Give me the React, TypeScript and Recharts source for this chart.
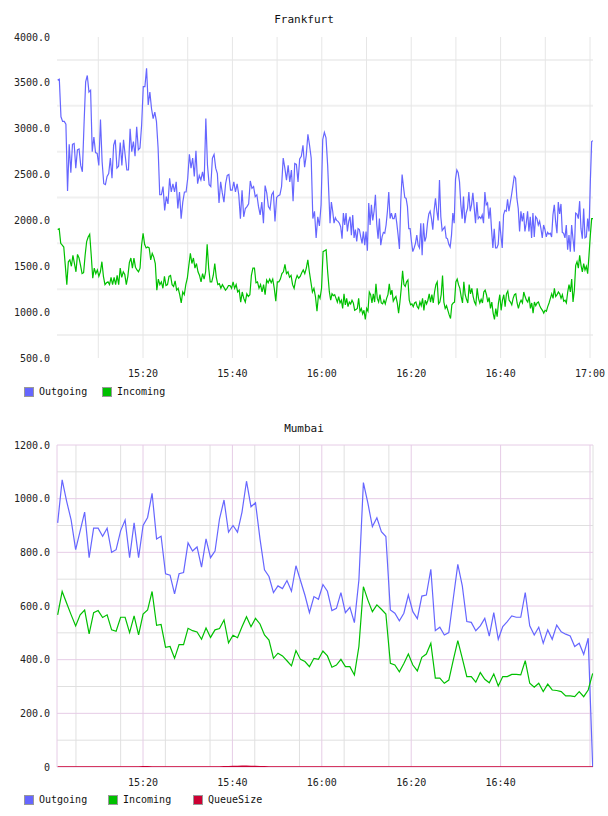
import React from 'react'
import { LineChart, Line, XAxis, YAxis, CartesianGrid } from 'recharts'

// Frankfurt in two halves (15:01-16:01, 16:01-17:00)
const frankfurtOutA = [
  3530, 3540, 3130, 3080, 3080, 3050, 2320, 2830, 2520, 2830, 2840, 2570, 2770, 2780, 2600, 2530, 3040, 3510, 3580, 3400,
  3420, 2750, 2910, 2740, 2730, 2600, 3100, 2640, 2400, 2390, 2480, 2510, 2680, 2460, 2820, 2880, 2570, 2590, 2850, 2600,
  2880, 2710, 2550, 2550, 3000, 2750, 2860, 2700, 3020, 2770, 2790, 3040, 3460, 3460, 3660, 3260, 3400, 3220, 3110, 3180,
  3080, 2790, 2280, 2280, 2370, 2110, 2260, 2180, 2460, 2310, 2400, 2310, 2420, 2130, 2310, 2020, 2200, 2310, 2310, 2460,
  2720, 2570, 2680, 2480, 2760, 2400, 2490, 2440, 2530, 2430, 3110, 2600, 2390, 2370, 2680, 2720, 2570, 2510, 2190, 2420,
  2300, 2200, 2400, 2490, 2500, 2330, 2330, 2420, 2310, 2400, 2280, 2020, 2330, 2040, 2130, 2150, 2180, 2430, 2350, 2370,
  2260, 2280, 2150, 2060, 2200, 1970, 2380, 2300, 2150, 2120, 2280, 2310, 1990, 2250, 2270, 2280, 2370, 2680, 2570, 2440,
  2600, 2420, 2550, 2210, 2620, 2610, 2420, 2670, 2700, 2820, 2580, 2710, 2940, 2820, 2680, 2020, 2100, 1810, 2040, 1940,
  2170, 2880, 2960, 2900, 2600,
]
const frankfurtOutB = [
  1970, 2200, 2100, 1970, 2030, 2000, 1990, 1970, 1930, 1800, 2080, 1950, 2080, 1880, 1990, 2040, 1840, 2060, 1810, 1900,
  1770, 1910, 1900, 1820, 1750, 1880, 1730, 1880, 1670, 2190, 1950, 2170, 2000, 2100, 2280, 1960, 1800, 2020, 1730, 1820,
  1870, 1860, 1950, 2100, 2310, 2020, 2080, 2020, 2020, 2080, 1970, 1840, 1690, 2200, 2500, 2370, 2250, 2240, 2150, 1910,
  1910, 1770, 1660, 1700, 1750, 1840, 1730, 1700, 1970, 1620, 1970, 1770, 1820, 1970, 2070, 2100, 2020, 1900, 2110, 2240,
  2100, 2000, 2440, 2040, 1890, 1910, 1930, 1810, 1800, 1740, 1710, 1840, 2080, 1970, 2450, 2550, 2520, 2420, 2170, 2020,
  2260, 1970, 2080, 2130, 2310, 2100, 2170, 2300, 2140, 1970, 2200, 2020, 2040, 2020, 2060, 1970, 2310, 2170, 2190, 2020,
  2140, 1900, 1700, 1910, 1700, 1700, 1740, 1990, 1840, 1700, 2060, 2110, 2100, 2230, 2100, 2190, 2280, 2380, 2480, 2460,
  2240, 2130, 1880, 2100, 1990, 2080, 1880, 1970, 2100, 1880, 2040, 1810, 2080, 1820, 2040, 2020, 1950, 1990, 1910, 1810,
  1950, 1900, 1820, 1870, 1850, 1860, 1820, 2060, 2170, 1990, 1860, 2200, 2070, 2180, 1870, 1860, 1810, 1950, 1680, 1840,
  1660, 1950, 1800, 1660, 2080, 2070, 2020, 2210, 1910, 1800, 2130, 1810, 1820, 2020, 1880, 2420, 2860, 2870,
]
const frankfurtInA = [
  1900, 1910, 1750, 1730, 1710, 1510, 1300, 1550, 1570, 1500, 1620, 1530, 1440, 1630, 1590, 1510, 1420, 1430, 1620, 1770,
  1820, 1850, 1620, 1370, 1480, 1420, 1460, 1390, 1440, 1550, 1390, 1300, 1320, 1330, 1300, 1380, 1300, 1380, 1300, 1400,
  1300, 1480, 1380, 1440, 1410, 1300, 1390, 1540, 1590, 1480, 1590, 1490, 1460, 1440, 1480, 1730, 1860, 1740, 1700, 1710,
  1700, 1570, 1640, 1600, 1530, 1240, 1360, 1300, 1330, 1260, 1390, 1290, 1300, 1390, 1400, 1300, 1280, 1340, 1240, 1260,
  1190, 1100, 1220, 1190, 1300, 1370, 1510, 1640, 1530, 1590, 1480, 1530, 1440, 1400, 1330, 1420, 1360, 1440, 1740, 1480,
  1330, 1330, 1400, 1530, 1380, 1300, 1310, 1260, 1300, 1270, 1240, 1260, 1290, 1290, 1260, 1330, 1260, 1300, 1220, 1240,
  1110, 1220, 1150, 1110, 1200, 1170, 1190, 1400, 1480, 1480, 1320, 1330, 1260, 1300, 1220, 1300, 1190, 1350, 1320, 1360,
  1320, 1360, 1260, 1120, 1330, 1330, 1360, 1420, 1440, 1520, 1420, 1440, 1380, 1400, 1300, 1260, 1350, 1400, 1370, 1390,
  1430, 1460, 1420, 1480, 1570, 1440, 1330, 1220, 1260, 1170, 1010, 1190, 1150, 1260, 1660, 1670, 1680, 1440,
]
const frankfurtInB = [
  1220, 1130, 1200, 1180, 1190, 1150, 1110, 1170, 1100, 1130, 1040, 1200, 1080, 1150, 1060, 1110, 1090, 1130, 1100, 1020,
  1030, 1040, 1150, 1010, 1040, 980, 1020, 920, 1040, 1010, 1220, 1190, 1100, 1200, 1110, 1310, 1150, 1110, 1190, 1100,
  1090, 1130, 1090, 1150, 1190, 1310, 1190, 1240, 1120, 1150, 1170, 1100, 990, 1110, 1260, 1450, 1300, 1280, 1330, 1350,
  1130, 1080, 1090, 1060, 1100, 1110, 1060, 1040, 1110, 1070, 1150, 1020, 1130, 1090, 1130, 1200, 1110, 1190, 1100, 1220,
  1300, 1330, 1090, 1110, 1190, 1400, 1110, 1040, 1070, 1020, 970, 930, 1080, 1100, 1110, 1330, 1360, 1300, 1260, 1170,
  1100, 1330, 1190, 1140, 1100, 1300, 1200, 1260, 1170, 1110, 1080, 1260, 1150, 1100, 1140, 1100, 1220, 1240, 1190, 1110,
  1160, 1040, 1110, 990, 920, 1040, 950, 1100, 1190, 1020, 1130, 1190, 1060, 1200, 1230, 1130, 1110, 1080, 1150, 1190,
  1200, 1100, 1040, 1100, 1130, 1100, 1220, 1170, 1130, 1110, 1170, 1040, 1100, 990, 1110, 1070, 1100, 1110, 1070, 1040,
  1020, 990, 1020, 1010, 1060, 1100, 1150, 1200, 1150, 1260, 1170, 1190, 1220, 1200, 1150, 1190, 1120, 1130, 1100, 1220,
  1300, 1220, 1360, 1110, 1240, 1510, 1550, 1480, 1620, 1510, 1440, 1530, 1460, 1500, 1420, 1620, 1840, 2020, 2020,
]

// Mumbai, one sample a minute
const mumbaiOut = [
  910, 1070, 990, 920, 810, 880, 950, 780, 890, 890, 860, 890, 800, 810, 880, 920, 780, 910, 780, 900,
  930, 1020, 850, 860, 720, 715, 645, 720, 725, 835, 805, 820, 745, 850, 780, 805, 925, 995, 875, 900,
  875, 950, 1065, 970, 985, 850, 735, 710, 650, 675, 665, 695, 655, 750, 695, 640, 575, 635, 625, 680,
  655, 583, 591, 650, 575, 595, 538, 697, 1060, 983, 896, 929, 877, 859, 585, 573, 545, 573, 641, 579,
  553, 637, 641, 737, 508, 521, 492, 501, 629, 755, 675, 542, 539, 508, 526, 554, 488, 575, 476, 523,
  542, 563, 558, 558, 650, 526, 492, 521, 461, 511, 476, 529, 504, 495, 488, 449, 461, 420, 480, 0,
]
const mumbaiIn = [
  567, 654, 610, 567, 526, 567, 585, 496, 575, 583, 557, 567, 511, 506, 558, 558, 501, 563, 492, 570,
  585, 654, 528, 531, 446, 449, 405, 456, 456, 517, 508, 503, 476, 518, 483, 511, 516, 548, 463, 491,
  482, 523, 560, 523, 554, 533, 492, 473, 405, 424, 414, 396, 377, 434, 401, 393, 374, 405, 401, 432,
  414, 372, 380, 401, 374, 374, 343, 449, 672, 622, 579, 604, 588, 570, 386, 380, 355, 386, 421, 380,
  358, 409, 421, 461, 331, 331, 312, 324, 399, 471, 405, 337, 337, 316, 352, 327, 314, 347, 302, 337,
  337, 345, 345, 343, 396, 312, 297, 312, 281, 309, 287, 285, 281, 265, 265, 262, 281, 262, 287, 349,
]
const mumbaiQueue = [
  0, 0, 0, 0, 0, 0, 0, 0, 0, 0, 0, 0, 0, 0, 0, 0, 0, 0, 0, 1,
  1, 0, 0, 0, 0, 0, 0, 0, 0, 0, 0, 0, 0, 0, 0, 0, 0, 1, 1, 2,
  2, 3, 3, 2, 2, 1, 1, 0, 0, 0, 0, 0, 0, 0, 0, 0, 0, 0, 0, 0,
  0, 0, 0, 0, 0, 0, 0, 0, 0, 0, 0, 0, 0, 0, 0, 0, 0, 0, 0, 0,
  0, 0, 0, 0, 0, 0, 0, 0, 0, 0, 0, 0, 0, 0, 0, 0, 0, 0, 0, 0,
  0, 0, 0, 0, 0, 0, 0, 0, 0, 0, 0, 0, 0, 0, 0, 0, 0, 0, 0, 0,
]

// minutes after 15:00
const timeTicks = [20, 40, 60, 80, 100, 120]
const minorTimes = [5, 10, 15, 25, 30, 35, 45, 50, 55, 65, 70, 75, 85, 90, 95, 105, 110, 115]
const allTimes = [5, 10, 15, 20, 25, 30, 35, 40, 45, 50, 55, 60, 65, 70, 75, 80, 85, 90, 95, 100, 105, 110, 115, 120]
const frankfurtTicks = [500, 1000, 1500, 2000, 2500, 3000, 3500, 4000]
const frankfurtGrid = [750, 1250, 1750, 2250, 2750, 3250, 3750]
const mumbaiTicks = [0, 200, 400, 600, 800, 1000, 1200]
const mumbaiMinor = [100, 300, 500, 700, 900, 1100]

const X_MIN = 0.76
const X_MAX = 120.67
const FONT = '"DejaVu Sans Mono", monospace'
const BLUE = '#6666ff'
const GREEN = '#00c000'
const RED = '#cc0033'

function spread(values: number[], from: number, to: number) {
  const step = (to - from) / (values.length - 1)
  return values.map((v, i) => ({ t: from + i * step, v }))
}

const fOut = [...spread(frankfurtOutA, 0.91, 61.31), ...spread(frankfurtOutB, 61.84, 120.67)]
const fIn = [...spread(frankfurtInA, 0.91, 61.31), ...spread(frankfurtInB, 61.69, 120.67)]
const mOut = spread(mumbaiOut, 0.91, 120.6)
const mIn = spread(mumbaiIn, 0.91, 120.6)
const mQueue = spread(mumbaiQueue, 0.91, 120.6)

const fmtTime = (t: number) => `${15 + Math.floor(t / 60)}:${String(t % 60).padStart(2, '0')}`
const tick = { fill: '#222', fontSize: 10, fontFamily: FONT }

function LegendItem({ x, color, label }: { x: number; color: string; label: string }) {
  return (
    <div style={{ position: 'absolute', left: x, top: 0, display: 'flex', alignItems: 'center' }}>
      <div style={{ width: 8, height: 8, background: color, border: '1px solid #999' }} />
      <span style={{ marginLeft: 5, fontSize: 10, fontFamily: FONT, color: '#111' }}>{label}</span>
    </div>
  )
}

export default function App() {
  return (
    <div style={{ position: 'absolute', left: 0, top: 0, width: 608, height: 816, background: '#fff' }}>
      <div style={{ position: 'absolute', top: 13, width: 608, textAlign: 'center', fontSize: 11, fontFamily: FONT, color: '#111' }}>
        Frankfurt
      </div>
      <div style={{ position: 'absolute', top: 0, left: 0 }}>
        <LineChart width={608} height={380} margin={{ top: 37, right: 15, bottom: 0, left: 0 }}>
          <CartesianGrid vertical={false} horizontalValues={frankfurtGrid} stroke="#f0f0f0" strokeWidth={2} />
          <CartesianGrid horizontal={false} verticalValues={allTimes} stroke="#e6e6e6" />
          <XAxis
            type="number"
            dataKey="t"
            domain={[X_MIN, X_MAX]}
            ticks={timeTicks}
            tickFormatter={fmtTime}
            allowDataOverflow
            axisLine={false}
            tickLine={false}
            tickMargin={6}
            height={22}
            tick={tick}
          />
          <YAxis
            type="number"
            domain={[500, 4000]}
            ticks={frankfurtTicks}
            tickFormatter={(v: number) => v.toFixed(1)}
            allowDataOverflow
            axisLine={false}
            tickLine={false}
            tickMargin={1}
            width={57}
            tick={tick}
          />
          <Line data={fOut} dataKey="v" stroke={BLUE} strokeWidth={1.2} dot={false} isAnimationActive={false} />
          <Line data={fIn} dataKey="v" stroke={GREEN} strokeWidth={1.2} dot={false} isAnimationActive={false} />
        </LineChart>
      </div>
      <div style={{ position: 'absolute', top: 386, left: 0, width: 608, height: 14 }}>
        <LegendItem x={24} color={BLUE} label="Outgoing" />
        <LegendItem x={102} color={GREEN} label="Incoming" />
      </div>

      <div style={{ position: 'absolute', top: 422, width: 608, textAlign: 'center', fontSize: 11, fontFamily: FONT, color: '#111' }}>
        Mumbai
      </div>
      <div style={{ position: 'absolute', top: 408, left: 0 }}>
        <LineChart width={608} height={381} margin={{ top: 37, right: 15, bottom: 0, left: 0 }}>
          <CartesianGrid horizontalValues={mumbaiMinor} verticalValues={[...minorTimes, X_MAX]} stroke="#e0e0e0" />
          <CartesianGrid horizontalValues={mumbaiTicks} verticalValues={[X_MIN, ...timeTicks]} stroke="#e6cce6" />
          <XAxis
            type="number"
            dataKey="t"
            domain={[X_MIN, X_MAX]}
            ticks={timeTicks.slice(0, 5)}
            tickFormatter={fmtTime}
            allowDataOverflow
            axisLine={false}
            tickLine={false}
            tickMargin={6}
            height={22}
            tick={tick}
          />
          <YAxis
            type="number"
            domain={[0, 1200]}
            ticks={mumbaiTicks}
            tickFormatter={(v: number) => (v === 0 ? '0' : v.toFixed(1))}
            allowDataOverflow
            axisLine={false}
            tickLine={false}
            tickMargin={1}
            width={57}
            tick={tick}
          />
          <Line data={mOut} dataKey="v" stroke={BLUE} strokeWidth={1.2} dot={false} isAnimationActive={false} />
          <Line data={mIn} dataKey="v" stroke={GREEN} strokeWidth={1.2} dot={false} isAnimationActive={false} />
          <Line data={mQueue} dataKey="v" stroke={RED} strokeWidth={1.5} dot={false} isAnimationActive={false} />
        </LineChart>
      </div>
      <div style={{ position: 'absolute', top: 794, left: 0, width: 608, height: 14 }}>
        <LegendItem x={24} color={BLUE} label="Outgoing" />
        <LegendItem x={108} color={GREEN} label="Incoming" />
        <LegendItem x={193} color={RED} label="QueueSize" />
      </div>
    </div>
  )
}
